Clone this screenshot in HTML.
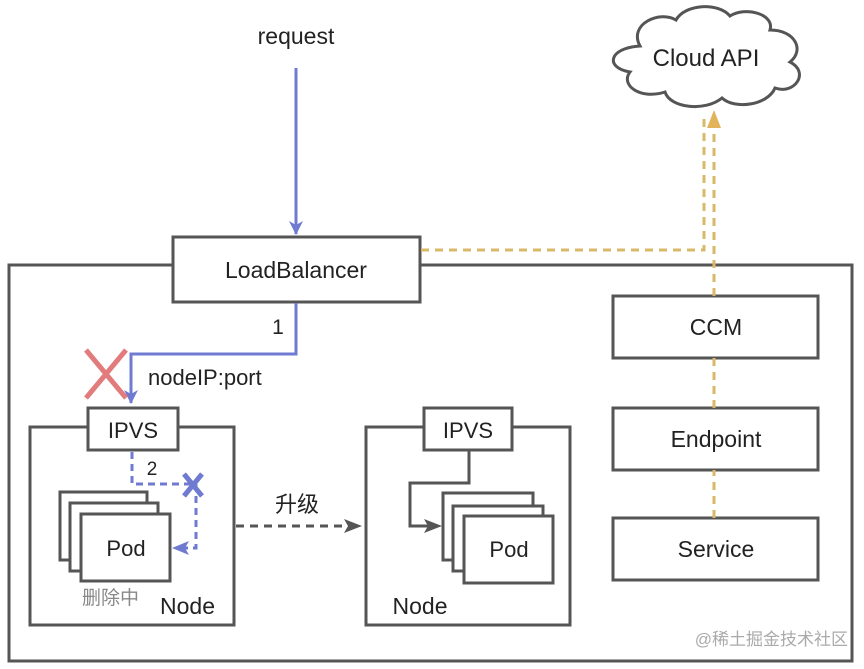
<!DOCTYPE html>
<html><head><meta charset="utf-8"><style>
html,body{margin:0;padding:0;background:#fff;}
svg{display:block;}
text{font-family:"Liberation Sans","Noto Sans CJK SC",sans-serif;fill:#222;}
</style></head><body>
<svg width="864" height="669" viewBox="0 0 864 669" xmlns="http://www.w3.org/2000/svg">
<defs>
<marker id="ab" markerWidth="14" markerHeight="14" refX="13" refY="7" orient="auto" markerUnits="userSpaceOnUse"><path d="M0,0 L14,7 L0,14 L4,7 Z" fill="#6f7bd0"/></marker>
</defs>
<g fill="none" stroke="#555" stroke-width="3">
<rect x="9" y="265" width="843" height="396" fill="#fff"/>
<rect x="173" y="237" width="247" height="65" fill="#fff"/>
<rect x="30" y="427" width="204" height="198" fill="#fff"/>
<rect x="366" y="427" width="204" height="198" fill="#fff"/>
<rect x="613" y="296" width="205" height="62" fill="#fff"/>
<rect x="613" y="408" width="205" height="62" fill="#fff"/>
<rect x="613" y="518" width="205" height="62" fill="#fff"/>
</g>
<g stroke="#d9b867" stroke-width="3" stroke-dasharray="8,6" fill="none">
<path d="M421 250 H704 V118"/>
<path d="M714 518 V470"/>
<path d="M714 408 V358"/>
<path d="M714 296 V128"/>
</g>
<path d="M714 110 L707 128 L721 128 Z" fill="#e3b35c"/>
<path d="M640 46 C628 24 660 10 676 20 C685 4 718 2 730 16 C745 6 775 14 770 30 C795 30 805 50 790 62 C810 72 795 95 775 88 C768 105 735 110 722 98 C705 112 670 108 665 92 C640 100 620 85 630 72 C605 68 608 48 640 46 Z" fill="#fff" stroke="#555" stroke-width="3"/>
<text x="706" y="66" font-size="24" text-anchor="middle">Cloud API</text>
<text x="296" y="44" font-size="23" text-anchor="middle">request</text>
<line x1="296" y1="68" x2="296" y2="234" stroke="#6f7bd0" stroke-width="3" marker-end="url(#ab)"/>
<text x="296" y="278" font-size="23" text-anchor="middle">LoadBalancer</text>
<path d="M296 303 V354 H131 V403" fill="none" stroke="#6f7bd0" stroke-width="3" marker-end="url(#ab)"/>
<text x="278" y="334" font-size="21" text-anchor="middle">1</text>
<text x="148" y="385" font-size="22">nodeIP:port</text>
<path d="M86 350 L126 398 M126 350 L86 398" stroke="#e27b7b" stroke-width="5"/>
<rect x="88" y="408" width="90" height="42" fill="#fff" stroke="#555" stroke-width="3"/>
<text x="133" y="438" font-size="22" text-anchor="middle">IPVS</text>
<g fill="#fff" stroke="#555" stroke-width="3">
<rect x="60" y="492" width="87" height="68"/>
<rect x="70" y="503" width="88" height="68"/>
<rect x="81" y="514" width="89" height="67"/>
</g>
<text x="126" y="556" font-size="22" text-anchor="middle">Pod</text>
<text x="82" y="604" font-size="19" style="fill:#888">删除中</text>
<text x="160" y="614" font-size="23">Node</text>
<path d="M132 452 V484 H196 V548 H184" fill="none" stroke="#6f7bd0" stroke-width="3" stroke-dasharray="7,5"/>
<path d="M172 548 L189 541 L185 548 L189 555 Z" fill="#6f7bd0"/>
<path d="M184 474 L202 496 M202 474 L184 496" stroke="#6f7bd0" stroke-width="5"/>
<text x="152" y="475" font-size="19" text-anchor="middle">2</text>
<line x1="236" y1="526" x2="346" y2="526" stroke="#555" stroke-width="3" stroke-dasharray="8,6"/>
<path d="M362 526 L344 519 L348 526 L344 533 Z" fill="#555"/>
<text x="297" y="512" font-size="22" text-anchor="middle">升级</text>
<rect x="424" y="408" width="88" height="42" fill="#fff" stroke="#555" stroke-width="3"/>
<text x="468" y="438" font-size="22" text-anchor="middle">IPVS</text>
<path d="M469 451 V483 H410 V526 H430" fill="none" stroke="#555" stroke-width="3"/>
<path d="M442 526 L424 519 L428 526 L424 533 Z" fill="#555"/>
<g fill="#fff" stroke="#555" stroke-width="3">
<rect x="443" y="493" width="90" height="67"/>
<rect x="453" y="506" width="90" height="65"/>
<rect x="464" y="516" width="89" height="67"/>
</g>
<text x="509" y="557" font-size="22" text-anchor="middle">Pod</text>
<text x="420" y="614" font-size="23" text-anchor="middle">Node</text>
<text x="716" y="335" font-size="23" text-anchor="middle">CCM</text>
<text x="716" y="447" font-size="23" text-anchor="middle">Endpoint</text>
<text x="716" y="557" font-size="23" text-anchor="middle">Service</text>
<text x="848" y="645" font-size="17" text-anchor="end" style="fill:#aaa">@稀土掘金技术社区</text>
</svg>
</body></html>
